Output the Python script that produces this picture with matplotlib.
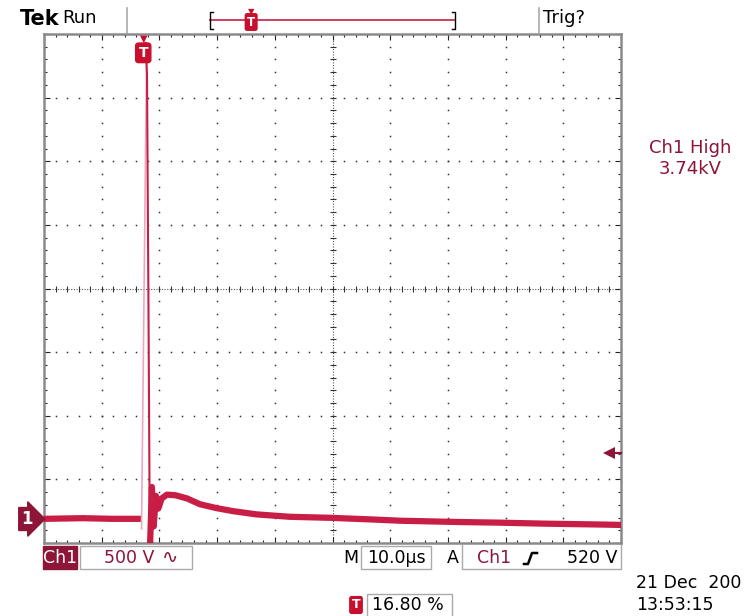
import numpy as np
import matplotlib.pyplot as plt
from matplotlib.lines import Line2D
from matplotlib.patches import Rectangle
import matplotlib.transforms as mtransforms

plt.rcParams['font.family'] = ['DejaVu Sans']

# scope settings
time_div = 10.0       # us / div
volt_div = 500.0      # V / div
trig_pct = 16.80      # trigger position in record, %
trig_level = 520.0    # V
ch1_high = 3.74       # kV
ground_offset = 3.62  # divisions below screen centre

# trace (time in us, volts)
pre_t = [-16.8, -10.0, -5.0, 0.0]
pre_v = [0, 5, 0, 0]
rise_t = [0.1, 1.0]
rise_v = [-80, 3740]
fall_t = [0.8, 1.05, 1.3, 1.55]
fall_v = [3740, 3500, 1700, -250]
tail_t = [1.55, 1.9, 2.2, 2.6, 3.0, 3.6, 4.5, 6.0, 8.0, 10.2, 13.0, 16.0,
          20.0, 25.8, 32.8, 40.0, 45.0, 55.0, 62.0, 70.0, 80.0, 83.2]
tail_v = [-250, 250, -60, 180, 80, 160, 190, 185, 160, 115, 85, 60,
          35, 16, 8, -5, -15, -25, -30, -38, -45, -48]

trace = '#C81E46'
pale = '#EDA9B9'
maroon = '#8C1538'
tred = '#C8102E'
gray = '#8a8a8a'
dot = '#333333'

W, H = 750, 616
def fx(x): return x / W
def fy(y): return 1 - y / H

fig = plt.figure(figsize=(7.5, 6.16), dpi=100)
ax = fig.add_axes([44 / W, 1 - 543 / H, 577 / W, 509 / H])

t0 = -trig_pct / 100 * 10 * time_div
t1 = t0 + 10 * time_div
vc = ground_offset * volt_div
v0, v1 = vc - 4 * volt_div, vc + 4 * volt_div
ax.set_xlim(t0, t1)
ax.set_ylim(v0, v1)

# graticule
xs_major = t0 + np.arange(11) * time_div
ys_major = v0 + np.arange(9) * volt_div
xs_minor = t0 + np.arange(51) * time_div / 5
ys_minor = v0 + np.arange(41) * volt_div / 5
for k in range(1, 10):
    if k == 5:
        continue
    ax.plot(np.full(len(ys_minor), xs_major[k]), ys_minor, ls='none', marker='s',
            ms=1.1, mew=0, color=dot, zorder=1)
for j in range(1, 8):
    if j == 4:
        continue
    ax.plot(xs_minor, np.full(len(xs_minor), ys_major[j]), ls='none', marker='s',
            ms=1.1, mew=0, color=dot, zorder=1)
# centre axes
ax.axhline(vc, color='#555555', lw=0.8, ls=(0, (1, 1.4)), zorder=1)
ax.axvline(xs_major[5], color='#555555', lw=0.8, ls=(0, (1, 1.4)), zorder=1)
ax.plot(xs_minor, np.full(len(xs_minor), vc), ls='none', marker='|', ms=4, mew=0.8, color=dot, zorder=1)
ax.plot(np.full(len(ys_minor), xs_major[5]), ys_minor, ls='none', marker='_', ms=4, mew=0.8, color=dot, zorder=1)

ax.set_xticks(xs_major)
ax.set_yticks(ys_major)
ax.set_xticks(xs_minor, minor=True)
ax.set_yticks(ys_minor, minor=True)
ax.tick_params(which='both', direction='in', top=True, right=True, labelbottom=False,
               labelleft=False, color='#222222', width=0.8)
ax.tick_params(which='major', length=4)
ax.tick_params(which='minor', length=2.5)
for s in ax.spines.values():
    s.set_color(gray)
    s.set_linewidth(1.8)

# trace
ax.plot(pre_t, pre_v, color=trace, lw=4.5, solid_capstyle='butt', zorder=3)
ax.plot(tail_t, tail_v, color=trace, lw=4.5, solid_joinstyle='round', zorder=3)
ax.plot(rise_t, rise_v, color=pale, lw=1.2, zorder=3)
ax.plot(fall_t, fall_v, color=trace, lw=1.5, zorder=4)

# trigger level arrow
t_arrow = t0 + (609 - 44) / 577 * 10 * time_div
ax.plot([t_arrow, t1], [trig_level, trig_level], color=maroon, lw=1.6, clip_on=False, zorder=5)
ax.plot([t_arrow], [trig_level], ls='none', marker='<', ms=8, mew=0, color=maroon,
        clip_on=False, zorder=5)

# trigger T marker on top of screen
bt = mtransforms.blended_transform_factory(ax.transData, ax.transAxes)
ax.text(0.4, 0.963, 'T', transform=bt, color='white', fontweight='bold', fontsize=10,
        ha='center', va='center', zorder=6,
        bbox=dict(boxstyle='round,pad=0.2', fc=tred, ec=tred))
ax.text(0.4, 0.99, '\u25bc', transform=bt, color=tred, fontsize=7, ha='center', va='center', zorder=6)

# ground marker
fig.text(fx(27), fy(519), '1', color='white', fontweight='bold', fontsize=12, ha='center',
         va='center', bbox=dict(boxstyle='rarrow,pad=0.15', fc=maroon, ec=maroon))

# header
fig.text(fx(20), fy(19), 'Tek', fontsize=15, fontweight='bold', va='center', ha='left')
fig.text(fx(62), fy(18), 'Run', fontsize=13, va='center', ha='left')
fig.text(fx(543), fy(18), 'Trig?', fontsize=13, va='center', ha='left')
for xsep in (127, 539):
    fig.add_artist(Line2D([fx(xsep), fx(xsep)], [fy(8), fy(33)], color='#aaaaaa', lw=1.2))
bx0, bx1 = 210, 455
fig.add_artist(Line2D([fx(bx0), fx(bx1)], [fy(20), fy(20)], color=trace, lw=1.2))
fig.add_artist(Line2D([fx(bx0 + 3), fx(bx0), fx(bx0), fx(bx0 + 3)], [fy(12), fy(12), fy(29), fy(29)],
                      color='black', lw=1))
fig.add_artist(Line2D([fx(bx1 - 3), fx(bx1), fx(bx1), fx(bx1 - 3)], [fy(12), fy(12), fy(29), fy(29)],
                      color='black', lw=1))
tb = bx0 + trig_pct / 100 * (bx1 - bx0)
fig.text(fx(tb), fy(22), 'T', color='white', fontweight='bold', fontsize=8.5, ha='center',
         va='center', bbox=dict(boxstyle='round,pad=0.15', fc=tred, ec=tred))
fig.text(fx(tb), fy(12), '\u25bc', color=tred, fontsize=6, ha='center', va='center')

# right readout
fig.text(fx(690), fy(148), 'Ch1 High', color=maroon, fontsize=13, ha='center', va='center')
fig.text(fx(690), fy(169), f'{ch1_high:.2f}kV', color=maroon, fontsize=13, ha='center', va='center')

# bottom readouts
def box(x0, y0, x1, y1, **kw):
    fig.add_artist(Rectangle((fx(x0), fy(y1)), (x1 - x0) / W, (y1 - y0) / H,
                             transform=fig.transFigure, **kw))

box(43, 546, 77, 569, fc=maroon, ec=maroon)
fig.text(fx(60), fy(558), 'Ch1', color='white', fontsize=12.5, ha='center', va='center')
box(80, 546, 192, 569, fill=False, ec='#aaaaaa', lw=1)
fig.text(fx(104), fy(558), f'{volt_div:.0f} V', color=maroon, fontsize=12.5, ha='left', va='center')
fig.text(fx(170), fy(558), '\u223f', color=maroon, fontsize=14, ha='center', va='center')

fig.text(fx(351), fy(558), 'M', fontsize=12.5, ha='center', va='center')
box(361, 546, 431, 569, fill=False, ec='#aaaaaa', lw=1)
fig.text(fx(396), fy(558), f'{time_div:.1f}\u00b5s', fontsize=12.5, ha='center', va='center')
fig.text(fx(453), fy(558), 'A', fontsize=12.5, ha='center', va='center')
fig.add_artist(Line2D([fx(462), fx(462), fx(621), fx(621)], [fy(545), fy(569), fy(569), fy(545)],
                      color='#aaaaaa', lw=1))
fig.text(fx(494), fy(558), 'Ch1', color=maroon, fontsize=12.5, ha='center', va='center')
fig.add_artist(Line2D([fx(524), fx(528), fx(532), fx(537)], [fy(564), fy(564), fy(553), fy(553)],
                      color='black', lw=1.8))
fig.text(fx(617), fy(558), f'{trig_level:.0f} V', fontsize=12.5, ha='right', va='center')

fig.text(fx(356), fy(605), 'T', color='white', fontweight='bold', fontsize=9, ha='center',
         va='center', bbox=dict(boxstyle='round,pad=0.15', fc=tred, ec=tred))
box(367, 594, 452, 617, fill=False, ec='#aaaaaa', lw=1)
fig.text(fx(372), fy(605), f'{trig_pct:.2f} %', fontsize=12.5, ha='left', va='center')

fig.text(fx(636), fy(583), '21 Dec  200', fontsize=12.5, ha='left', va='center')
fig.text(fx(636), fy(605), '13:53:15', fontsize=12.5, ha='left', va='center')

fig.savefig('out.png', dpi=100, facecolor='white')
